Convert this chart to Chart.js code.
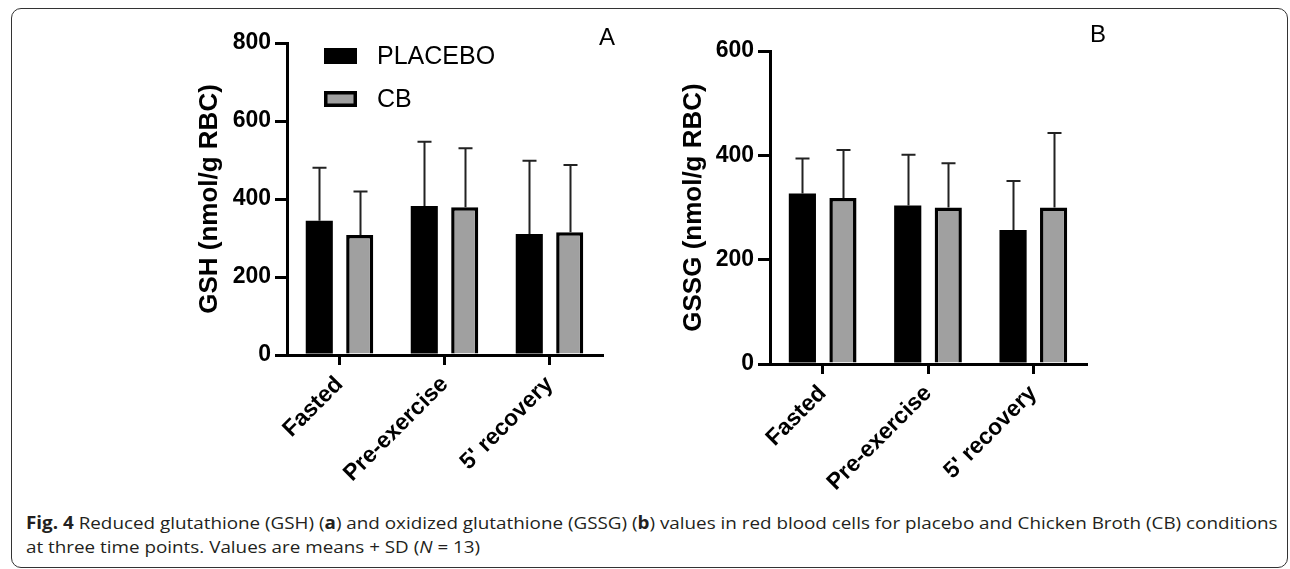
<!DOCTYPE html>
<html>
<head>
<meta charset="utf-8">
<script src="https://cdn.jsdelivr.net/npm/chart.js@4.4.0/dist/chart.umd.min.js"></script>
<style>
  body { margin: 0; width: 1290px; height: 569px; background: #fff; overflow: hidden; position: relative; }
  #frame { position: absolute; left: 11px; top: 8px; width: 1277px; height: 560px; border: 1.5px solid #333; border-radius: 10px; box-sizing: border-box; }
  canvas { position: absolute; }
  #chartA { left: 190px; top: 10px; }
  #chartB { left: 674px; top: 10px; }
  .cap { position: absolute; left: 26px; white-space: nowrap; font-family: "Open Sans", sans-serif; font-size: 17px; line-height: 23px; color: #231f20; transform-origin: left center; }
  #cap1 { top: 511px; }
  #cap2 { top: 535px; }
</style>
</head>
<body>
<div id="frame"></div>
<canvas id="chartA" width="440" height="480"></canvas>
<canvas id="chartB" width="446" height="480"></canvas>
<div class="cap" id="cap1"><b>Fig. 4</b> Reduced glutathione (GSH) (<b>a</b>) and oxidized glutathione (GSSG) (<b>b</b>) values in red blood cells for placebo and Chicken Broth (CB) conditions</div>
<div class="cap" id="cap2">at three time points. Values are means + SD (<i>N</i> = 13)</div>
<script>
const timePoints = ["Fasted", "Pre-exercise", "5' recovery"];
const seriesNames = ["PLACEBO", "CB"];

// panel A: GSH, means and SD
const gshPlacebo = [344, 382, 310];
const gshPlaceboSd = [136, 165, 188];
const gshCb = [308, 379, 315];
const gshCbSd = [111, 151, 172];

// panel B: GSSG, means and SD
const gssgPlacebo = [327, 304, 257];
const gssgPlaceboSd = [67, 97, 94];
const gssgCb = [318, 300, 300];
const gssgCbSd = [92, 85, 143];

const gshTicks = [0, 200, 400, 600, 800];
const gssgTicks = [0, 200, 400, 600];

const FONT = "'Liberation Sans', Arial, sans-serif";

const errorBars = {
    id: "errorBars",
    afterDatasetsDraw(chart) {
        const ctx = chart.ctx;
        const yScale = chart.scales.y;
        ctx.save();
        ctx.strokeStyle = "#222";
        ctx.lineWidth = 2;
        chart.data.datasets.forEach((ds, i) => {
            chart.getDatasetMeta(i).data.forEach((bar, j) => {
                const top = yScale.getPixelForValue(ds.data[j] + ds.sd[j]);
                const x = Math.round(bar.x) + 0.5;
                ctx.beginPath();
                ctx.moveTo(x, bar.y);
                ctx.lineTo(x, top);
                ctx.moveTo(x - 7, top);
                ctx.lineTo(x + 7, top);
                ctx.stroke();
            });
        });
        ctx.restore();
    }
};

const panelDecor = {
    id: "panelDecor",
    afterDraw(chart, args, opts) {
        const ctx = chart.ctx;
        const area = chart.chartArea;
        ctx.save();
        ctx.fillStyle = "#000";
        ctx.font = "24px " + FONT;
        ctx.textAlign = "center";
        ctx.textBaseline = "middle";
        ctx.fillText(opts.letter, area.right + opts.dx, area.top + opts.dy);
        if (opts.legend) {
            chart.data.datasets.forEach((ds, i) => {
                const bx = area.left + 37;
                const by = area.top + 5 + i * 43;
                ctx.fillStyle = "#000";
                ctx.fillRect(bx, by, 33, 16);
                ctx.fillStyle = ds.backgroundColor;
                ctx.fillRect(bx + 3.5, by + 3.5, 26, 9);
                ctx.fillStyle = "#000";
                ctx.font = "25px " + FONT;
                ctx.textAlign = "left";
                ctx.fillText(ds.label, bx + 53, by + 9);
            });
        }
        ctx.restore();
    }
};

function makeChart(id, placebo, placeboSd, cb, cbSd, ticks, title, yWidth, xHeight, pad, decor) {
    return new Chart(document.getElementById(id), {
        type: "bar",
        data: {
            labels: timePoints,
            datasets: [
                { label: seriesNames[0], data: placebo, sd: placeboSd, backgroundColor: "#000", borderColor: "#000", borderWidth: 0 },
                { label: seriesNames[1], data: cb, sd: cbSd, backgroundColor: "#a0a0a0", borderColor: "#000", borderWidth: 3.5, borderSkipped: "start" }
            ]
        },
        options: {
            responsive: false,
            animation: false,
            layout: { padding: pad },
            categoryPercentage: 0.77,
            barPercentage: 0.67,
            plugins: {
                legend: { display: false },
                tooltip: { enabled: false },
                panelDecor: decor
            },
            scales: {
                x: {
                    afterFit(scale) { scale.height = xHeight; },
                    grid: { offset: false, drawOnChartArea: false, tickLength: 10, lineWidth: 3, color: "#000" },
                    border: { display: true, width: 3, color: "#000" },
                    ticks: { minRotation: 45, maxRotation: 45, padding: 6, color: "#000", font: { family: FONT, size: 23, weight: "bold" } }
                },
                y: {
                    min: ticks[0],
                    max: ticks[ticks.length - 1],
                    afterFit(scale) { scale.width = yWidth; },
                    afterBuildTicks(scale) { scale.ticks = ticks.map(v => ({ value: v })); },
                    grid: { drawOnChartArea: false, tickLength: 12, lineWidth: 3, color: "#000" },
                    border: { display: true, width: 3, color: "#000" },
                    ticks: { padding: 4, color: "#000", font: { family: FONT, size: 23, weight: "bold" } },
                    title: { display: true, text: title, color: "#000", font: { family: FONT, size: 26, weight: "bold" } }
                }
            }
        },
        plugins: [errorBars, panelDecor]
    });
}

makeChart("chartA", gshPlacebo, gshPlaceboSd, gshCb, gshCbSd, gshTicks, "GSH (nmol/g RBC)",
    97, 135, { top: 33, right: 28, bottom: 0, left: 0 }, { letter: "A", dx: 5, dy: -5, legend: true });
makeChart("chartB", gssgPlacebo, gssgPlaceboSd, gssgCb, gssgCbSd, gssgTicks, "GSSG (nmol/g RBC)",
    96, 126, { top: 41, right: 34, bottom: 0, left: 0 }, { letter: "B", dx: 12, dy: -16, legend: false });

// squeeze caption lines to the printed width
const cap1 = document.getElementById("cap1");
const cap2 = document.getElementById("cap2");
const k = 1252 / cap1.scrollWidth;
cap1.style.transform = "scaleX(" + k + ")";
cap2.style.transform = "scaleX(" + k + ")";
</script>
</body>
</html>
